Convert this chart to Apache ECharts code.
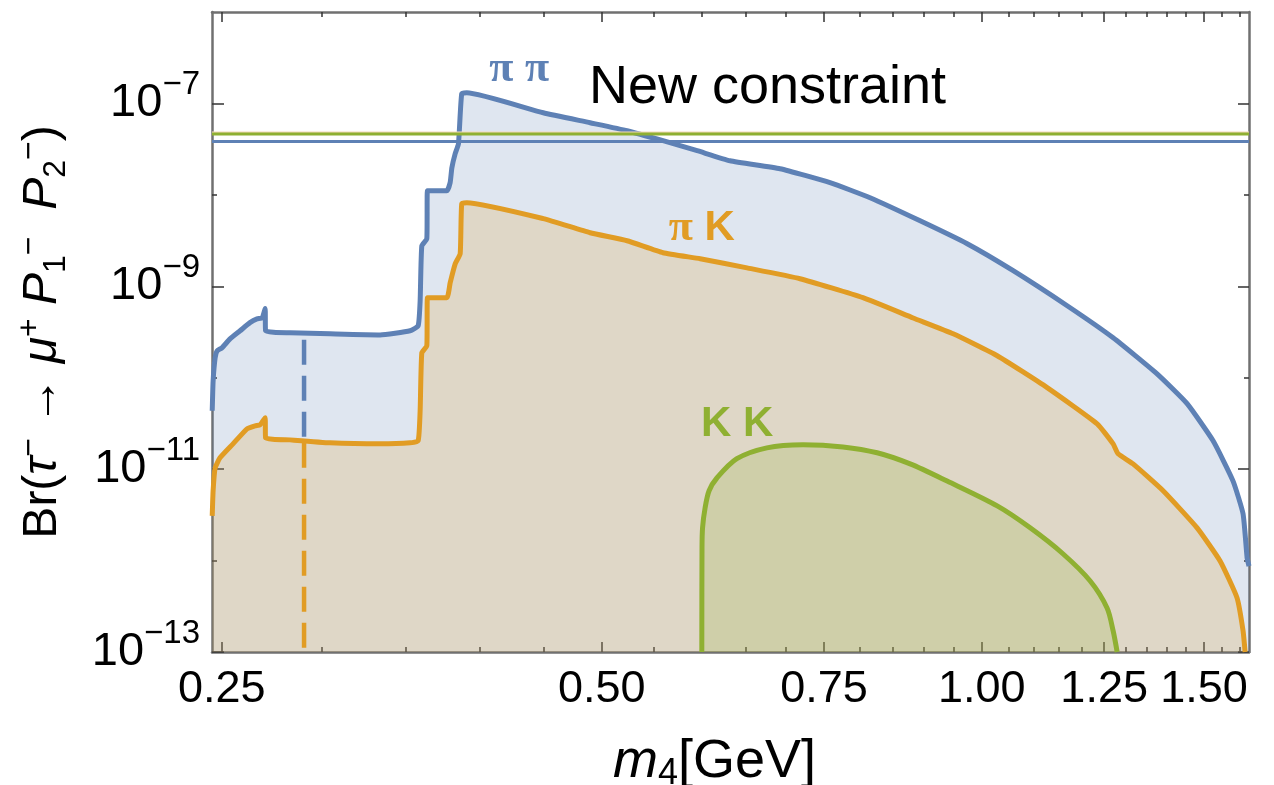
<!DOCTYPE html>
<html>
<head>
<meta charset="utf-8">
<title>Br(tau -> mu P1 P2)</title>
<script src="https://cdn.jsdelivr.net/npm/echarts@6/dist/echarts.min.js"></script>
<style>
    html, body { margin: 0; padding: 0; background: #fff; }
    #container { width: 1274px; height: 785px; }
</style>
</head>
<body>
<div id="container"></div>
<script>
// axis ranges
var massMin = 0.2456, massMax = 1.628;
var brMin = 1e-13, brMax = 1e-6;

// pi pi channel
var piPiMass = [0.2457, 0.2461, 0.2470, 0.2479, 0.2501, 0.2538, 0.2585, 0.2632, 0.2666, 0.2691, 0.2706, 0.2708,
    0.2832, 0.3046, 0.3337, 0.3525, 0.3577, 0.3590, 0.3601, 0.3634, 0.3638, 0.3769, 0.3792, 0.3804, 0.3827,
    0.3850, 0.3873, 0.3909, 0.4494, 0.4895, 0.5236, 0.5591, 0.5950, 0.6318, 0.6921, 0.7582, 0.8156, 0.8936,
    0.9737, 1.0589, 1.1685, 1.2707, 1.3767, 1.4542, 1.5248, 1.5814, 1.6105, 1.6224, 1.628];
var piPiBr = [4.35e-11, 9.2e-11, 1.65e-10, 1.97e-10, 2.12e-10, 2.66e-10, 3.26e-10, 4.0e-10, 4.4e-10, 4.5e-10, 5.7e-10, 3.26e-10,
    3.1e-10, 3.02e-10, 2.94e-10, 3.26e-10, 3.7e-10, 6.9e-10, 2.77e-9, 3.31e-9, 1.11e-8, 1.11e-8, 1.36e-8, 1.98e-8, 2.82e-8,
    3.62e-8, 1.28e-7, 1.31e-7, 7.9e-8, 6.15e-8, 5.03e-8, 3.91e-8, 3.04e-8, 2.36e-8, 1.93e-8, 1.36e-8, 9.3e-9, 5.2e-9,
    2.92e-9, 1.48e-9, 6.12e-10, 2.73e-10, 1.1e-10, 5.2e-11, 2.04e-11, 7.4e-12, 3.24e-12, 1.07e-12, 8.7e-13];

// pi K channel
var piKMass = [0.2457, 0.2461, 0.2470, 0.2492, 0.2552, 0.2618, 0.2657, 0.2681, 0.2706, 0.2708, 0.2832, 0.3046,
    0.3337, 0.3525, 0.3577, 0.3590, 0.3601, 0.3634, 0.3638, 0.3769, 0.3792, 0.3827, 0.3862, 0.3873, 0.3909,
    0.4494, 0.4895, 0.5236, 0.5591, 0.5983, 0.6517, 0.7178, 0.8052, 0.8823, 0.9491, 1.0285, 1.1266, 1.2342,
    1.2707, 1.2823, 1.3178, 1.3919, 1.4809, 1.5444, 1.5930, 1.6105, 1.6165];
var piKBr = [3.08e-12, 5.8e-12, 1.03e-11, 1.33e-11, 1.89e-11, 2.76e-11, 2.98e-11, 3.05e-11, 3.64e-11, 2.2e-11, 2.09e-11, 1.94e-11,
    1.89e-11, 1.94e-11, 2.04e-11, 4.35e-11, 1.87e-10, 2.23e-10, 7.5e-10, 7.5e-10, 1.09e-9, 1.76e-9, 2.27e-9, 8.0e-9, 8.2e-9,
    5.5e-9, 3.85e-9, 3.15e-9, 2.33e-9, 2.0e-9, 1.59e-9, 1.21e-9, 7.5e-10, 4.5e-10, 3.02e-10, 1.74e-10, 7.8e-11, 3.13e-11,
    1.89e-11, 1.47e-11, 1.14e-11, 5.8e-12, 2.28e-12, 9.9e-13, 3.9e-13, 1.7e-13, 1e-13];

// K K channel
var kKMass = [0.6001, 0.6003, 0.6009, 0.6037, 0.6081, 0.6168, 0.6397, 0.6757, 0.7218, 0.7764, 0.8262, 0.8775,
    0.9387, 1.0285, 1.0922, 1.1600, 1.2186, 1.2567, 1.2707, 1.2800];
var kKBr = [1e-13, 1.38e-12, 2.28e-12, 3.77e-12, 5.8e-12, 8.0e-12, 1.3e-11, 1.71e-11, 1.85e-11, 1.75e-11, 1.51e-11, 1.14e-11,
    7.4e-12, 3.96e-12, 2.28e-12, 1.18e-12, 5.98e-13, 3.03e-13, 1.7e-13, 1e-13];

// new constraint lines: pi pi, pi K, K K
var constraintBr = [3.84e-8, 4.75e-8, 4.62e-8];

// dashed vertical markers
var dashMass = 0.2905;
var piPiDashBr = [2.6e-10, 2.2e-11];
var piKDashBr = [1.94e-11, 1e-13];

// ticks
var xMajorTicks = [0.25, 0.5, 0.75, 1.0, 1.25, 1.5];
var xMinorTicks = [0.30, 0.35, 0.40, 0.45, 0.55, 0.60, 0.65, 0.70, 0.80, 0.85, 0.90, 0.95,
    1.05, 1.10, 1.15, 1.20, 1.30, 1.35, 1.40, 1.45, 1.55, 1.60];
var yMajorExp = [-13, -11, -9, -7];
var yMinorExp = [-12, -10, -8];

// text annotations
var noteText = ['{p|π} {p|π}', '{p|π} {k|K}', '{k|K} {k|K}', 'New constraint'];
var noteMass = [0.430, 0.600, 0.640, 0.488];
var noteBr = [2.34e-7, 4.3e-9, 3.1e-11, 1.47e-7];

var BLUE = '#5E81B5', ORANGE = '#E19C24', GREEN = '#8FB032';
var SANS = 'Liberation Sans, Arial, Helvetica, sans-serif';
var SERIF = 'Liberation Serif, Times New Roman, serif';

function lg(v) {
    return Math.log10(v);
}

function toPoints(xs, ys) {
    var pts = [];
    for (var i = 0; i < xs.length; i++) {
        pts.push([lg(xs[i]), lg(ys[i])]);
    }
    return pts;
}

function curve(name, xs, ys, color, fill, z, smooth) {
    return {
        name: name, type: 'line', xAxisIndex: 0, yAxisIndex: 0,
        data: toPoints(xs, ys),
        symbol: 'none', z: z, silent: true, smooth: smooth,
        lineStyle: { color: color, width: 5, join: 'round' },
        areaStyle: { color: fill, opacity: 1, origin: 'start' }
    };
}

function hLine(v, color, z) {
    return {
        type: 'line', xAxisIndex: 0, yAxisIndex: 0,
        data: toPoints([massMin, massMax], [v, v]),
        symbol: 'none', z: z, silent: true,
        lineStyle: { color: color, width: 3 }
    };
}

function dashLine(ys, color) {
    return {
        type: 'line', xAxisIndex: 0, yAxisIndex: 0,
        data: toPoints([dashMass, dashMass], ys),
        symbol: 'none', z: 6, silent: true,
        lineStyle: { color: color, width: 4.5, type: [25, 11] }
    };
}

function xAxisDef(grid, pos, ticks, len, main) {
    return {
        type: 'value', gridIndex: grid, position: pos,
        min: lg(massMin), max: lg(massMax),
        axisLine: { show: main, onZero: false, lineStyle: { color: '#707070', width: 2.5 } },
        axisTick: { show: true, inside: true, length: len, customValues: ticks.map(lg),
            lineStyle: { color: '#333', width: 1.5 } },
        axisLabel: { show: false },
        splitLine: { show: false },
        axisPointer: { show: false }
    };
}

function yAxisDef(grid, pos, exps, len, main) {
    return {
        type: 'value', gridIndex: grid, position: pos,
        min: lg(brMin), max: lg(brMax),
        axisLine: { show: main, onZero: false, lineStyle: { color: '#707070', width: 2.5 } },
        axisTick: { show: true, inside: true, length: len, customValues: exps,
            lineStyle: { color: '#333', width: 1.5 } },
        axisLabel: { show: false },
        splitLine: { show: false },
        axisPointer: { show: false }
    };
}

// bottom axis with labels and title
var xBottom = xAxisDef(0, 'bottom', xMajorTicks, 10, true);
xBottom.axisLabel = {
    show: true, customValues: xMajorTicks.map(lg), margin: 15,
    fontSize: 45, lineHeight: 45, color: '#000', fontFamily: SANS,
    formatter: function (v) { return Math.pow(10, v).toFixed(2); }
};
xBottom.name = '{i|m}{s|4}{n|[GeV]}';
xBottom.nameLocation = 'middle';
xBottom.nameGap = 80;
xBottom.nameMoveOverlap = false;
xBottom.nameTextStyle = {
    padding: [0, 32, 0, 0],
    rich: {
        i: { fontSize: 54, lineHeight: 60, fontStyle: 'italic', fontFamily: SANS, color: '#000' },
        s: { fontSize: 36, lineHeight: 36, verticalAlign: 'bottom', fontFamily: SANS, color: '#000' },
        n: { fontSize: 54, lineHeight: 60, fontFamily: SANS, color: '#000' }
    }
};

// left axis with labels and title
var yLeft = yAxisDef(0, 'left', yMajorExp, 12, true);
yLeft.axisLabel = {
    show: true, customValues: yMajorExp, margin: 12,
    formatter: function (v) { return '{b|10}{e|\u2212' + Math.abs(Math.round(v)) + '}'; },
    rich: {
        b: { fontSize: 47, lineHeight: 70, fontFamily: SANS, color: '#000' },
        e: { fontSize: 33, lineHeight: 33, verticalAlign: 'top', fontFamily: SANS, color: '#000' }
    }
};
yLeft.name = '{n|Br(}{g|τ}{sp|\u2212}{n| → }{g|μ}{sp|+}{n| }{g|P}{sb|1}{sp|\u2212}{n|  }{g|P}{sb|2}{sp|\u2212}{n|)}';
yLeft.nameLocation = 'middle';
yLeft.nameRotate = 90;
yLeft.nameGap = 140;
yLeft.nameMoveOverlap = false;
yLeft.nameTextStyle = {
    rich: {
        n: { fontSize: 48, lineHeight: 58, fontFamily: SANS, color: '#000' },
        g: { fontSize: 48, lineHeight: 58, fontStyle: 'italic', fontFamily: SANS, color: '#000' },
        sp: { fontSize: 32, lineHeight: 32, verticalAlign: 'top', fontFamily: SANS, color: '#000' },
        sb: { fontSize: 32, lineHeight: 32, verticalAlign: 'bottom', fontFamily: SANS, color: '#000' }
    }
};

var notes = [];
var noteColors = [BLUE, ORANGE, GREEN, '#000'];
for (var i = 0; i < noteText.length; i++) {
    var isTitle = i === 3;
    notes.push({
        value: [lg(noteMass[i]), lg(noteBr[i])],
        label: {
            show: true, formatter: noteText[i], opacity: 1,
            position: isTitle ? 'right' : 'inside', distance: 0,
            color: noteColors[i], fontSize: isTitle ? 54 : 42,
            fontWeight: isTitle ? 'normal' : 'bold', fontFamily: SANS,
            rich: {
                p: { fontSize: 44, fontWeight: 'bold', fontFamily: SERIF, color: noteColors[i] },
                k: { fontSize: 42, fontWeight: 'bold', fontFamily: SANS, color: noteColors[i] }
            }
        }
    });
}

var option = {
    animation: false,
    backgroundColor: '#fff',
    grid: [
        { left: 212, right: 25, top: 12, bottom: 133, outerBoundsMode: 'none' },
        { left: 212, right: 25, top: 12, bottom: 133, outerBoundsMode: 'none' }
    ],
    xAxis: [
        xBottom,
        xAxisDef(0, 'top', xMajorTicks, 10, true),
        xAxisDef(1, 'bottom', xMinorTicks, 5, false),
        xAxisDef(1, 'top', xMinorTicks, 5, false)
    ],
    yAxis: [
        yLeft,
        yAxisDef(0, 'right', yMajorExp, 11, true),
        yAxisDef(1, 'left', yMinorExp, 5, false),
        yAxisDef(1, 'right', yMinorExp, 5, false)
    ],
    series: [
        curve('ππ', piPiMass, piPiBr, BLUE, 'rgba(94,129,181,0.2)', 2, 0.15),
        curve('πK', piKMass, piKBr, ORANGE, 'rgba(225,156,36,0.2)', 3, 0.15),
        curve('KK', kKMass, kKBr, GREEN, 'rgba(143,176,50,0.2)', 4, 0.3),
        hLine(constraintBr[0], BLUE, 5),
        hLine(constraintBr[1], '#F3D9B8', 5),
        hLine(constraintBr[2], GREEN, 5),
        dashLine(piPiDashBr, BLUE),
        dashLine(piKDashBr, ORANGE),
        {
            type: 'scatter', xAxisIndex: 0, yAxisIndex: 0,
            data: notes, symbolSize: 1, z: 10, silent: true,
            itemStyle: { color: 'rgba(0,0,0,0)', opacity: 1 }
        }
    ]
};

var myChart = echarts.init(document.getElementById('container'));
myChart.setOption(option);
</script>
</body>
</html>
